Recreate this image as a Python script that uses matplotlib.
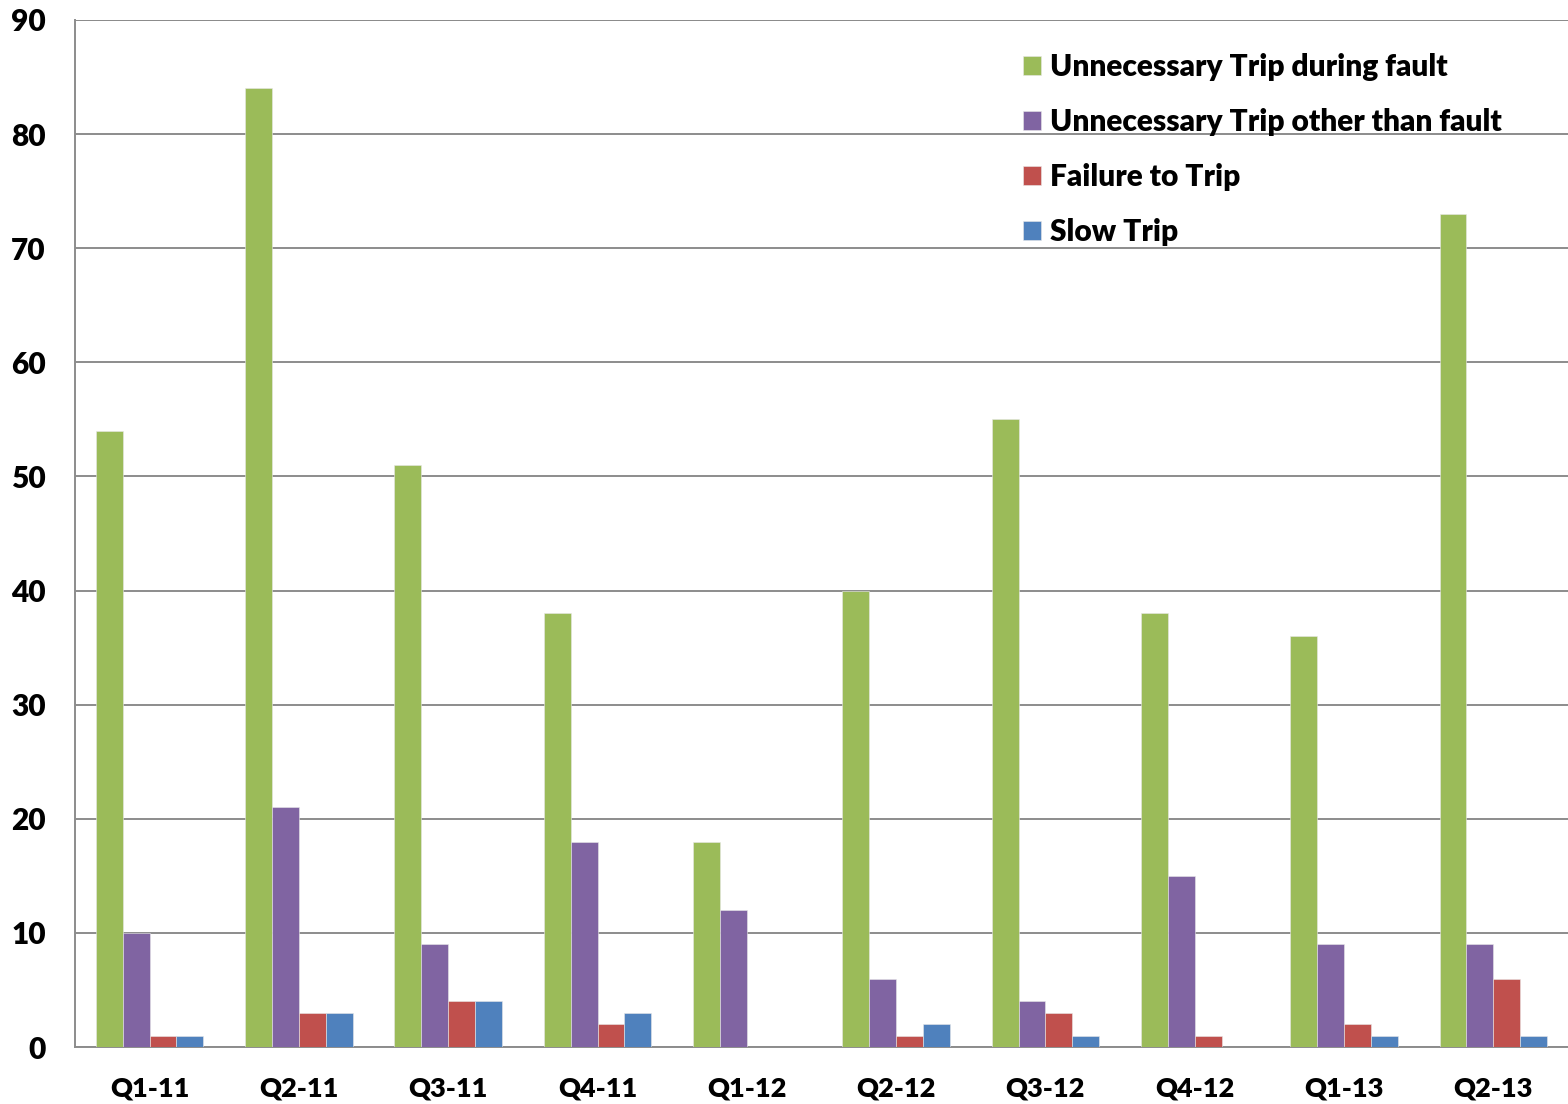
import matplotlib
matplotlib.use('Agg')
import matplotlib.pyplot as plt
import numpy as np

quarters = ['Q1-11', 'Q2-11', 'Q3-11', 'Q4-11', 'Q1-12',
            'Q2-12', 'Q3-12', 'Q4-12', 'Q1-13', 'Q2-13']
trip_fault = [54, 84, 51, 38, 18, 40, 55, 38, 36, 73]
trip_other = [10, 21, 9, 18, 12, 6, 4, 15, 9, 9]
fail_trip = [1, 3, 4, 2, 0, 1, 3, 1, 2, 6]
slow_trip = [1, 3, 4, 3, 0, 2, 1, 0, 1, 1]

series = [(trip_fault, 'Unnecessary Trip during fault', '#9bbb59'),
          (trip_other, 'Unnecessary Trip other than fault', '#8064a2'),
          (fail_trip, 'Failure to Trip', '#c0504d'),
          (slow_trip, 'Slow Trip', '#4f81bd')]

plt.rcParams['font.family'] = ['Lato', 'DejaVu Sans']
plt.rcParams['font.weight'] = 'bold'

fig = plt.figure(figsize=(15.68, 11.04), dpi=100)
ax = fig.add_axes([0.0478, 0.0516, 0.9522, 0.9303])

x = np.arange(len(quarters))
w = 0.18
for i, (vals, label, color) in enumerate(series):
    ax.bar(x + (i - 1.5) * w, vals, w, color=color, label=label,
           edgecolor='#e8e8e8', linewidth=0.4, zorder=3)

ax.set_xlim(-0.5, len(quarters) - 0.5)
ax.set_ylim(0, 90)
ax.set_yticks(range(0, 91, 10))
ax.set_xticks(x)
ax.set_xticklabels(quarters)
ax.yaxis.grid(True, color='#8c8c8c', linewidth=1.4, zorder=0)
ax.tick_params(axis='both', length=0)
ax.tick_params(axis='x', pad=21, labelsize=19.5)
ax.tick_params(axis='y', pad=21, labelsize=21.5)
for t in ax.get_xticklabels() + ax.get_yticklabels():
    t.set_fontweight('heavy')

for s in ['top', 'right']:
    ax.spines[s].set_visible(False)
ax.spines['left'].set_color('#8c8c8c')
ax.spines['left'].set_linewidth(1.4)
ax.spines['bottom'].set_color('#8c8c8c')
ax.spines['bottom'].set_linewidth(1.4)
ax.axhline(90, color='#8c8c8c', linewidth=1.4, zorder=1)

leg = ax.legend(loc='upper left', bbox_to_anchor=(0.617, 0.994), frameon=False,
                prop={'size': 21.5, 'weight': 'heavy'}, handlelength=0.6,
                handleheight=0.6, handletextpad=0.3, labelspacing=0.9)

plt.savefig('out.png')
